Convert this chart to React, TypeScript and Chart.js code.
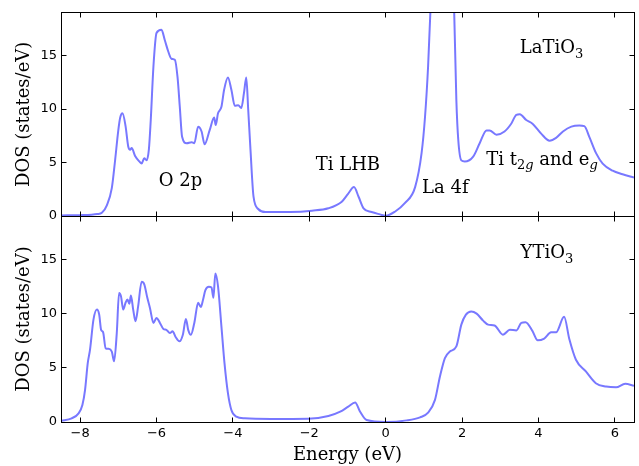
import React, { useEffect, useRef } from 'react';
import { Chart, registerables } from 'chart.js';

Chart.register(...registerables);

// ---------- data ----------
const laEnergy = [-8.5, -8.0, -7.7, -7.55, -7.43, -7.3, -7.17, -7.09, -7.0, -6.95, -6.89, -6.81, -6.74, -6.69, -6.65, -6.56, -6.45, -6.39, -6.32, -6.26, -6.2, -6.15, -6.08, -6.0, -5.87, -5.78, -5.69, -5.61, -5.52, -5.45, -5.39, -5.33, -5.21, -5.08, -5.01, -4.91, -4.82, -4.74, -4.61, -4.49, -4.45, -4.39, -4.3, -4.23, -4.13, -4.04, -3.95, -3.86, -3.78, -3.71, -3.65, -3.6, -3.54, -3.46, -3.33, -3.15, -2.5, -1.93, -1.5, -1.15, -0.98, -0.83, -0.71, -0.58, -0.37, -0.15, 0.0, 0.24, 0.5, 0.77, 0.94, 1.03, 1.11, 1.17, 1.25, 1.4, 1.55, 1.7, 1.79, 1.85, 1.9, 1.98, 2.07, 2.29, 2.46, 2.64, 2.72, 2.9, 3.11, 3.29, 3.42, 3.51, 3.68, 3.85, 4.07, 4.29, 4.46, 4.64, 4.86, 5.07, 5.2, 5.33, 5.51, 5.68, 5.94, 6.2, 6.5];
const laDos = [0.05, 0.08, 0.12, 0.18, 0.3, 1.0, 2.6, 5.0, 8.0, 9.2, 9.6, 8.4, 6.5, 6.2, 6.35, 5.6, 5.1, 4.9, 5.4, 5.2, 6.2, 9.0, 14.0, 17.1, 17.4, 16.4, 15.35, 14.7, 14.6, 13.0, 10.2, 7.4, 6.8, 6.9, 6.8, 8.35, 7.9, 6.7, 8.0, 9.2, 8.5, 9.6, 10.2, 11.8, 12.95, 11.8, 10.3, 10.35, 10.1, 11.5, 12.95, 10.0, 6.2, 1.8, 0.63, 0.37, 0.38, 0.5, 0.72, 1.34, 2.1, 2.7, 1.8, 0.72, 0.37, 0.15, 0.02, 0.4, 1.2, 2.7, 5.9, 9.3, 14.0, 19.1, 24, 32, 35, 28, 19.5, 10.8, 7.1, 5.2, 5.1, 5.55, 6.8, 8.0, 8.0, 7.6, 7.9, 8.65, 9.45, 9.5, 8.97, 8.6, 7.7, 7.04, 7.3, 7.9, 8.35, 8.45, 8.4, 7.4, 5.85, 4.9, 4.23, 3.9, 3.6];

const yEnergy = [-8.5, -8.22, -8.04, -7.94, -7.87, -7.8, -7.74, -7.65, -7.56, -7.5, -7.45, -7.4, -7.33, -7.26, -7.17, -7.11, -7.04, -6.98, -6.93, -6.87, -6.81, -6.76, -6.71, -6.67, -6.61, -6.55, -6.48, -6.39, -6.32, -6.24, -6.17, -6.08, -6.0, -5.91, -5.82, -5.74, -5.65, -5.58, -5.5, -5.4, -5.31, -5.23, -5.17, -5.1, -5.01, -4.91, -4.84, -4.78, -4.72, -4.63, -4.56, -4.51, -4.46, -4.39, -4.3, -4.22, -4.13, -4.04, -3.91, -3.69, -3.0, -2.03, -1.5, -1.19, -0.98, -0.8, -0.67, -0.5, 0.0, 0.55, 0.9, 1.11, 1.29, 1.42, 1.55, 1.68, 1.85, 1.98, 2.1, 2.24, 2.38, 2.55, 2.68, 2.85, 3.07, 3.25, 3.42, 3.55, 3.66, 3.84, 3.98, 4.15, 4.33, 4.46, 4.67, 4.81, 4.98, 5.24, 5.5, 5.77, 6.03, 6.27, 6.5];
const yDos = [0.1, 0.34, 0.8, 1.57, 2.96, 5.43, 6.67, 9.44, 10.37, 9.9, 8.5, 8.3, 6.8, 6.75, 6.5, 5.6, 8.2, 11.9, 11.6, 10.37, 11.0, 11.3, 10.9, 11.67, 10.37, 9.29, 10.68, 12.93, 12.7, 11.45, 10.5, 9.14, 9.6, 9.14, 8.58, 8.5, 8.2, 8.36, 7.84, 7.44, 8.05, 9.5, 8.5, 8.05, 9.14, 11.0, 10.6, 11.3, 12.16, 12.47, 12.4, 11.45, 13.7, 12.53, 8.8, 5.43, 2.66, 1.11, 0.5, 0.34, 0.28, 0.3, 0.55, 0.95, 1.42, 1.8, 0.95, 0.18, 0.0, 0.15, 0.43, 0.86, 2.04, 4.2, 5.9, 6.5, 6.97, 8.98, 9.9, 10.2, 10.0, 9.35, 8.98, 8.9, 8.05, 8.5, 8.45, 9.14, 9.2, 8.4, 7.53, 7.7, 8.27, 8.27, 9.7, 7.6, 5.74, 4.66, 3.58, 3.27, 3.2, 3.52, 3.35];

const xTickValues = [-8, -6, -4, -2, 0, 2, 4, 6];
const yTickValues = [0, 5, 10, 15];
const X_MIN = -8.5;
const X_MAX = 6.5;
const Y_MIN = 0;
const Y_MAX = 19;

type Part = { t: string; sub?: boolean; it?: boolean };
type Note = { parts: Part[]; x: number; y: number; align: 'left' | 'center' };

const laNotes: Note[] = [
  { parts: [{ t: 'O 2p' }], x: -5.37, y: 2.76, align: 'center' },
  { parts: [{ t: 'Ti LHB' }], x: -0.99, y: 4.3, align: 'center' },
  { parts: [{ t: 'La 4f' }], x: 1.56, y: 2.15, align: 'center' },
  { parts: [{ t: 'Ti t' }, { t: '2', sub: true }, { t: 'g', sub: true, it: true }, { t: ' and e' }, { t: 'g', sub: true, it: true }], x: 2.63, y: 4.77, align: 'left' },
  { parts: [{ t: 'LaTiO' }, { t: '3', sub: true }], x: 3.51, y: 15.2, align: 'left' },
];
const yNotes: Note[] = [
  { parts: [{ t: 'YTiO' }, { t: '3', sub: true }], x: 3.53, y: 15.1, align: 'left' },
];

const LINE_COLOR = '#7878ff';
const SERIF = '"DejaVu Serif", serif';
const SANS = '"DejaVu Sans", sans-serif';
const NOTE_SIZE = 18;

function drawParts(ctx: CanvasRenderingContext2D, parts: Part[], x: number, y: number, align: string, size: number) {
  const fontFor = (p: Part) => `${p.it ? 'italic ' : ''}${p.sub ? Math.round(size * 0.7) : size}px ${SERIF}`;
  let total = 0;
  for (const p of parts) {
    ctx.font = fontFor(p);
    total += ctx.measureText(p.t).width;
  }
  let cx = align === 'center' ? x - total / 2 : x;
  ctx.textAlign = 'left';
  ctx.textBaseline = 'alphabetic';
  ctx.fillStyle = '#000';
  for (const p of parts) {
    ctx.font = fontFor(p);
    ctx.fillText(p.t, cx, p.sub ? y + size * 0.25 : y);
    cx += ctx.measureText(p.t).width;
  }
}

function makePlugin(notes: Note[]) {
  return {
    id: 'frameAndNotes',
    afterDraw(chart: any) {
      const { ctx, chartArea: a, scales } = chart;
      const xs = scales.x;
      const ys = scales.y;
      ctx.save();
      ctx.strokeStyle = '#000';
      ctx.lineWidth = 1;
      const L = Math.floor(a.left) + 0.5;
      const R = Math.floor(a.right) + 0.5;
      const T = Math.floor(a.top) + 0.5;
      const B = Math.floor(a.bottom) + 0.5;
      ctx.strokeRect(L, T, R - L, B - T);
      const tl = 5;
      ctx.beginPath();
      for (const v of xTickValues) {
        const px = Math.floor(xs.getPixelForValue(v)) + 0.5;
        ctx.moveTo(px, B);
        ctx.lineTo(px, B - tl);
        ctx.moveTo(px, T);
        ctx.lineTo(px, T + tl);
      }
      for (const v of yTickValues) {
        const py = Math.floor(ys.getPixelForValue(v)) + 0.5;
        ctx.moveTo(L, py);
        ctx.lineTo(L + tl, py);
        ctx.moveTo(R, py);
        ctx.lineTo(R - tl, py);
      }
      ctx.stroke();
      for (const n of notes) {
        drawParts(ctx, n.parts, xs.getPixelForValue(n.x), ys.getPixelForValue(n.y), n.align, NOTE_SIZE);
      }
      ctx.restore();
    },
  };
}

const fmtTick = (v: any) => {
  const n = Number(v);
  return n < 0 ? '\u2212' + Math.abs(n) : String(n);
};

function makeConfig(energy: number[], dos: number[], notes: Note[], isBottom: boolean): any {
  const xScale: any = {
    type: 'linear',
    min: X_MIN,
    max: X_MAX,
    display: isBottom,
    ticks: {
      stepSize: 2,
      includeBounds: false,
      padding: 4,
      color: '#000',
      maxRotation: 0,
      autoSkip: false,
      font: { family: SANS, size: 13 },
      callback: fmtTick,
    },
    grid: { display: false, drawTicks: false },
    border: { display: false },
    title: {
      display: isBottom,
      text: 'Energy (eV)',
      color: '#000',
      font: { family: SERIF, size: 18 },
      padding: 0,
    },
  };
  if (isBottom) {
    xScale.afterFit = (s: any) => {
      s.height = 44;
    };
  }
  return {
    type: 'line',
    data: {
      datasets: [
        {
          data: energy.map((e, i) => ({ x: e, y: dos[i] })),
          borderColor: LINE_COLOR,
          borderWidth: 2,
          pointRadius: 0,
          fill: false,
          cubicInterpolationMode: 'monotone',
        },
      ],
    },
    options: {
      responsive: false,
      animation: false,
      events: [],
      layout: {
        padding: isBottom
          ? { left: 0, right: 5, top: 16, bottom: 0 }
          : { left: 0, right: 5, top: 12.7, bottom: 12 },
      },
      plugins: {
        legend: { display: false },
        tooltip: { enabled: false },
        title: { display: false },
      },
      scales: {
        x: xScale,
        y: {
          type: 'linear',
          min: Y_MIN,
          max: Y_MAX,
          ticks: {
            stepSize: 5,
            includeBounds: false,
            padding: 4,
            color: '#000',
            font: { family: SANS, size: 13 },
            callback: fmtTick,
          },
          grid: { display: false, drawTicks: false },
          border: { display: false },
          title: {
            display: true,
            text: 'DOS (states/eV)',
            color: '#000',
            font: { family: SERIF, size: 18 },
            padding: { top: 14, bottom: 0 },
          },
          afterFit: (s: any) => {
            s.width = 61;
          },
        },
      },
    },
    plugins: [makePlugin(notes)],
  };
}

export default function App() {
  const topRef = useRef<HTMLCanvasElement>(null);
  const botRef = useRef<HTMLCanvasElement>(null);

  useEffect(() => {
    document.body.style.margin = '0';
    const c1 = new Chart(topRef.current as HTMLCanvasElement, makeConfig(laEnergy, laDos, laNotes, false));
    const c2 = new Chart(botRef.current as HTMLCanvasElement, makeConfig(yEnergy, yDos, yNotes, true));
    return () => {
      c1.destroy();
      c2.destroy();
    };
  }, []);

  return (
    <div style={{ position: 'absolute', left: 0, top: 0, width: 639, height: 466, background: '#fff' }}>
      <canvas ref={topRef} width={639} height={228} style={{ position: 'absolute', left: 0, top: 0, width: 639, height: 228 }} />
      <canvas ref={botRef} width={639} height={266} style={{ position: 'absolute', left: 0, top: 200, width: 639, height: 266 }} />
    </div>
  );
}
